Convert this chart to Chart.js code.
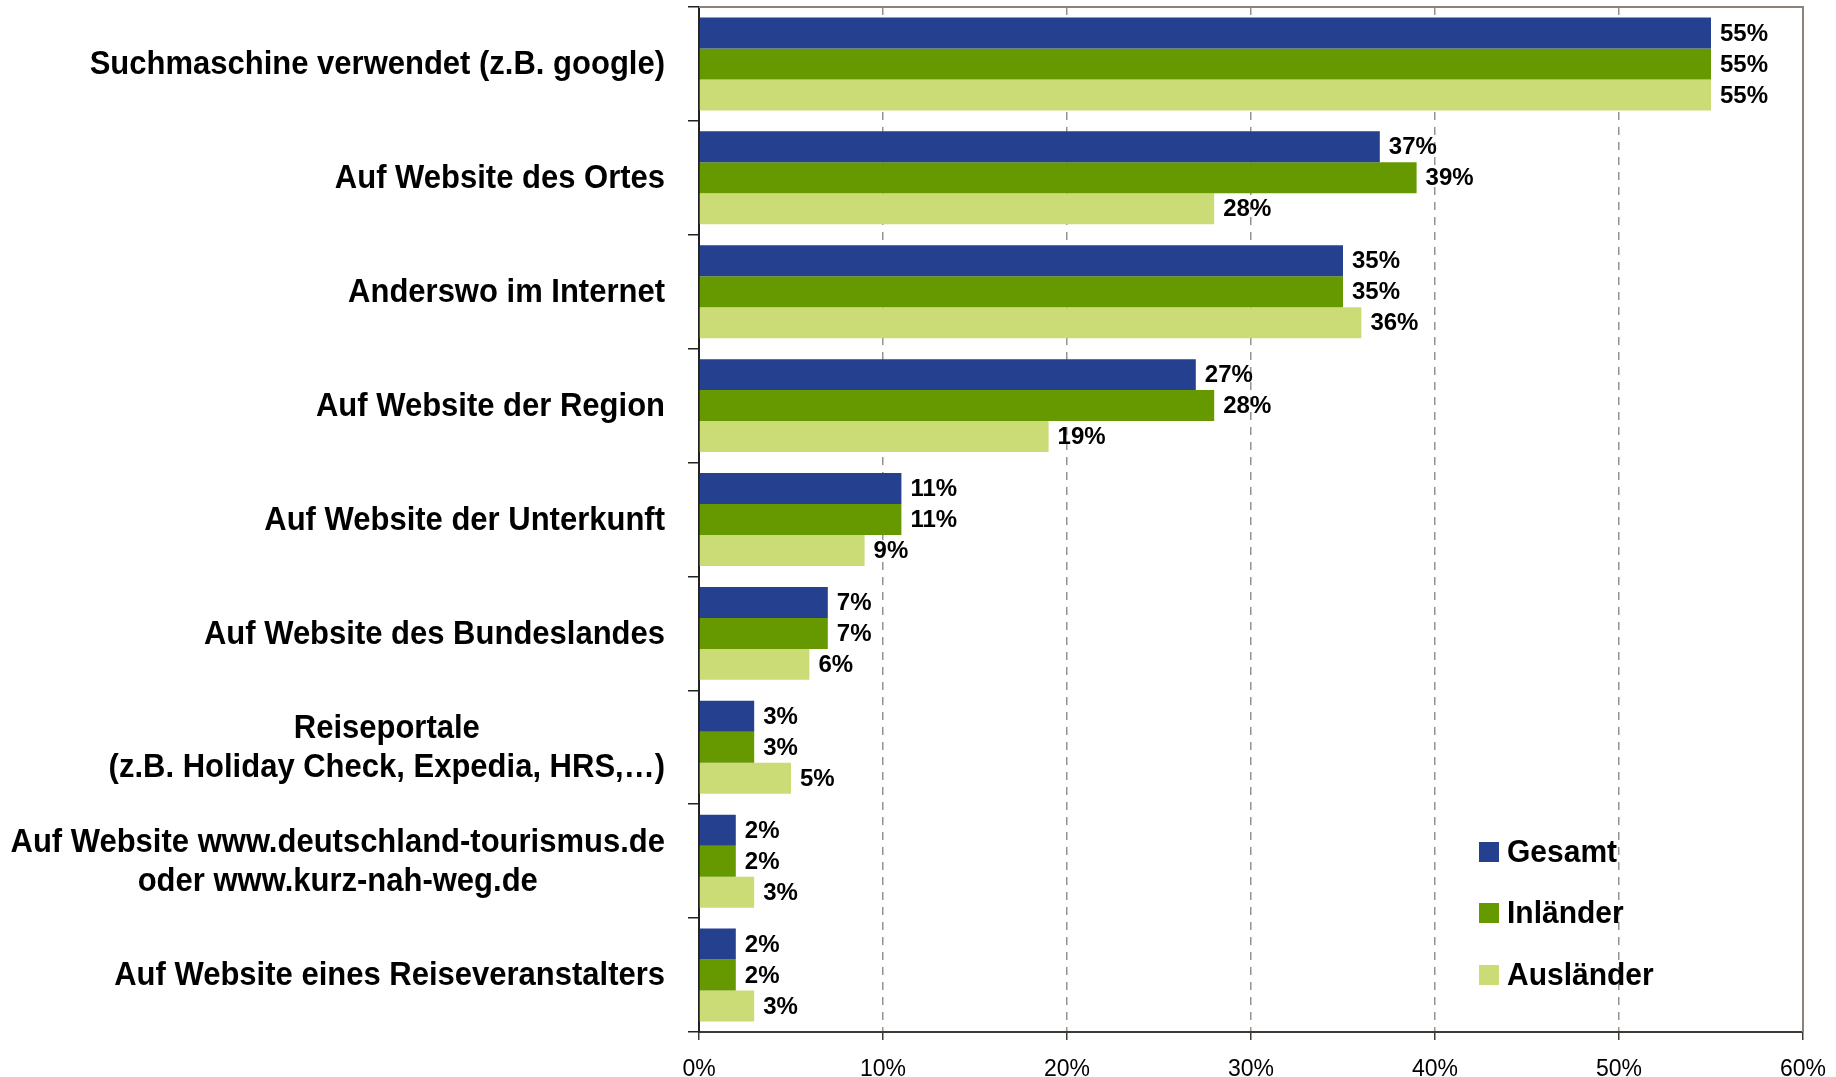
<!DOCTYPE html>
<html>
<head>
<meta charset="utf-8">
<script src="https://cdn.jsdelivr.net/npm/chart.js@4"></script>
<style>
  html, body { margin: 0; padding: 0; background: #fff; }
  #wrap { width: 1836px; height: 1077px; }
</style>
</head>
<body>
<div id="wrap"><canvas id="chart1"></canvas></div>
<script>
const categories = [
  ['Suchmaschine verwendet (z.B. google)'],
  ['Auf Website des Ortes'],
  ['Anderswo im Internet'],
  ['Auf Website der Region'],
  ['Auf Website der Unterkunft'],
  ['Auf Website des Bundeslandes'],
  ['Reiseportale', '(z.B. Holiday Check, Expedia, HRS,…)'],
  ['Auf Website www.deutschland-tourismus.de', 'oder www.kurz-nah-weg.de'],
  ['Auf Website eines Reiseveranstalters']
];
const gesamt    = [55, 37, 35, 27, 11, 7, 3, 2, 2];
const inlaender = [55, 39, 35, 28, 11, 7, 3, 2, 2];
const auslaender = [55, 28, 36, 19, 9, 6, 5, 3, 3];
const seriesNames = ['Gesamt', 'Inländer', 'Ausländer'];
const xTicks = [0, 10, 20, 30, 40, 50, 60];

const FONT = '"Liberation Sans", Arial, sans-serif';

// category labels: block right aligned, lines centered inside it
const catLabels = {
  id: 'catLabels',
  afterDraw(chart) {
    const ctx = chart.ctx;
    const yScale = chart.scales.y;
    const right = 665;
    const sy = 1.08; // text in the original is a bit taller
    ctx.save();
    ctx.font = 'bold 31px ' + FONT;
    ctx.fillStyle = '#000';
    ctx.textAlign = 'center';
    ctx.textBaseline = 'middle';
    const lh = 39;
    chart.data.labels.forEach((lines, i) => {
      const cy = yScale.getPixelForValue(i);
      let maxW = 0;
      lines.forEach(l => { maxW = Math.max(maxW, ctx.measureText(l).width); });
      const cx = right - maxW / 2;
      const y0 = cy - (lines.length - 1) * lh / 2;
      lines.forEach((l, k) => {
        ctx.save();
        ctx.translate(cx, y0 + k * lh + 1);
        ctx.scale(1, sy);
        ctx.fillText(l, 0, 0);
        ctx.restore();
      });
    });
    ctx.restore();
  }
};

// value labels at bar ends + frame + legend
const extras = {
  id: 'extras',
  afterDatasetsDraw(chart) {
    const ctx = chart.ctx;
    const a = chart.chartArea;
    ctx.save();
    // top and right frame
    ctx.strokeStyle = '#8c8279';
    ctx.lineWidth = 2;
    ctx.beginPath();
    ctx.moveTo(a.left, a.top);
    ctx.lineTo(a.right, a.top);
    ctx.lineTo(a.right, a.bottom);
    ctx.stroke();

    ctx.font = 'bold 24px ' + FONT;
    ctx.fillStyle = '#000';
    ctx.textAlign = 'left';
    ctx.textBaseline = 'middle';
    chart.data.datasets.forEach((ds, di) => {
      chart.getDatasetMeta(di).data.forEach((bar, i) => {
        ctx.fillText(ds.data[i] + '%', bar.x + 9, bar.y + 1);
      });
    });

    // legend
    ctx.font = 'bold 30px ' + FONT;
    const rows = [852, 913, 975];
    chart.data.datasets.forEach((ds, di) => {
      ctx.fillStyle = ds.backgroundColor;
      ctx.fillRect(1479, rows[di] - 10, 20, 20);
      ctx.fillStyle = '#000';
      ctx.save();
      ctx.translate(1507, rows[di] + 1);
      ctx.scale(1, 1.06);
      ctx.fillText(ds.label, 0, 0);
      ctx.restore();
    });
    ctx.restore();
  }
};

const graph = new Chart(document.getElementById('chart1'), {
  type: 'bar',
  data: {
    labels: categories,
    datasets: [
      { label: seriesNames[0], data: gesamt, backgroundColor: '#24408e' },
      { label: seriesNames[1], data: inlaender, backgroundColor: '#669900' },
      { label: seriesNames[2], data: auslaender, backgroundColor: '#cbdc76' }
    ]
  },
  options: {
    indexAxis: 'y',
    responsive: true,
    maintainAspectRatio: false,
    animation: false,
    layout: { padding: { top: 7, right: 33, left: 0, bottom: 0 } },
    datasets: { bar: { categoryPercentage: 0.816, barPercentage: 1.0 } },
    plugins: {
      legend: { display: false },
      tooltip: { enabled: false }
    },
    scales: {
      x: {
        min: 0,
        max: 60,
        afterBuildTicks: s => { s.ticks = xTicks.map(v => ({ value: v })); },
        ticks: {
          callback: v => v + '%',
          color: '#000',
          font: { family: FONT, size: 23 },
          padding: 16
        },
        grid: {
          color: ctx => (ctx.index === 0 || ctx.index === xTicks.length - 1) ? 'rgba(0,0,0,0)' : '#9a928b',
          lineWidth: 1.5,
          tickLength: 8,
          tickColor: '#3f3a36',
          tickWidth: 1.5
        },
        border: { color: '#3f3a36', width: 2, dash: [8, 7] },
        afterFit: s => { s.height = 45; s.paddingLeft = 0; s.paddingRight = 0; }
      },
      y: {
        ticks: { display: false },
        grid: {
          drawOnChartArea: false,
          drawTicks: true,
          tickLength: 11,
          color: '#222',
          lineWidth: 1.5
        },
        border: { color: '#222', width: 2 },
        afterFit: s => { s.width = 699; }
      }
    }
  },
  plugins: [catLabels, extras]
});
</script>
</body>
</html>
